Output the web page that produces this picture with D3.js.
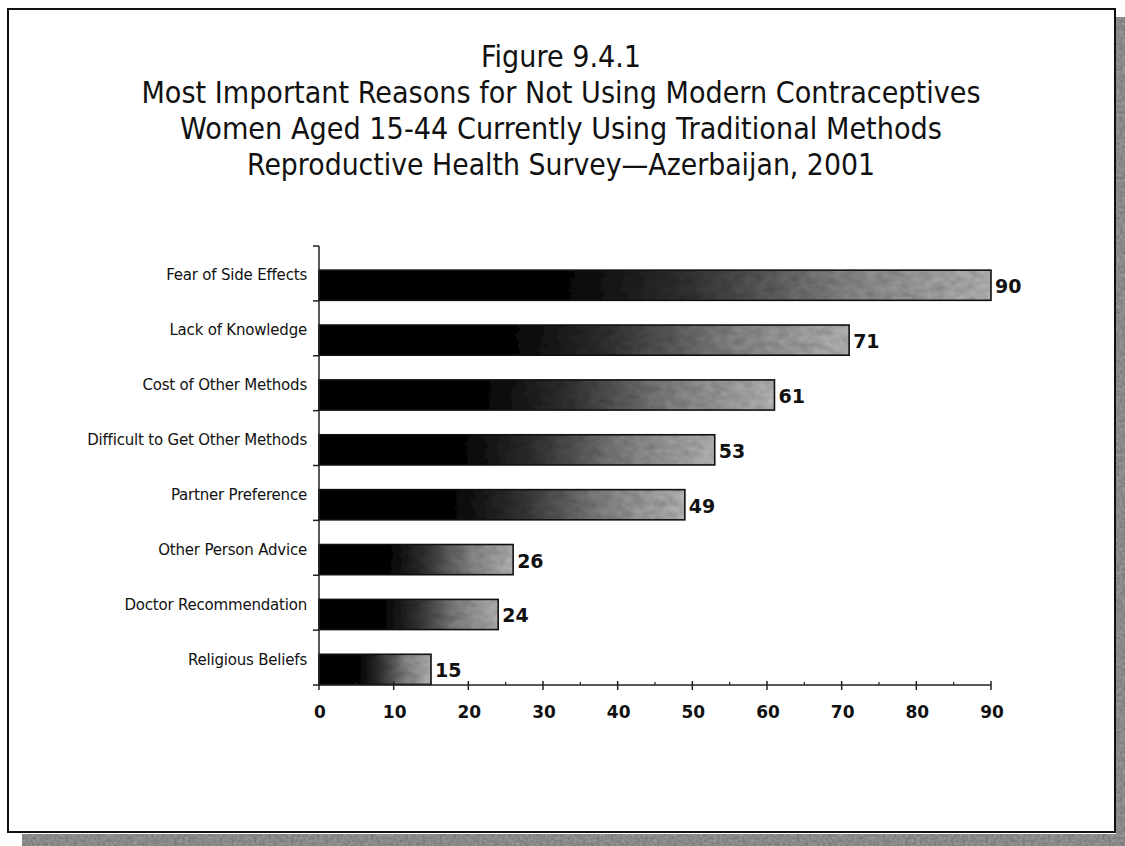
<!DOCTYPE html>
<html>
<head>
<meta charset="utf-8">
<script src="https://cdn.jsdelivr.net/npm/d3@7/dist/d3.min.js"></script>
<style>
  html, body { margin: 0; padding: 0; background: #ffffff; }
  svg { display: block; }
</style>
</head>
<body>
<div id="chart"></div>
<script>
// Reasons for not using modern contraceptives (percent of women using traditional methods)
const categories = [
  "Fear of Side Effects",
  "Lack of Knowledge",
  "Cost of Other Methods",
  "Difficult to Get Other Methods",
  "Partner Preference",
  "Other Person Advice",
  "Doctor Recommendation",
  "Religious Beliefs"
];
const values = [90, 71, 61, 53, 49, 26, 24, 15];
const xTicks = [0, 10, 20, 30, 40, 50, 60, 70, 80, 90];
const titleLines = [
  "Figure 9.4.1",
  "Most Important Reasons for Not Using Modern Contraceptives",
  "Women Aged 15-44 Currently Using Traditional Methods",
  "Reproductive Health Survey\u2014Azerbaijan, 2001"
];
const titleWidths = [160, 839, 762, 628];

const W = 1125, H = 846;
const svg = d3.select("#chart").append("svg")
  .attr("width", W).attr("height", H);

const defs = svg.append("defs");

// Dark-to-grey fill of each bar
const grad = defs.append("linearGradient")
  .attr("id", "barFill").attr("x1", "0").attr("x2", "1").attr("y1", "0").attr("y2", "0");
[[0, "#000"], [0.36, "#030303"], [0.55, "#2e2e2e"], [0.78, "#7a7a7a"], [1, "#a6a6a6"]]
  .forEach(([o, c]) => grad.append("stop").attr("offset", o).attr("stop-color", c));

// Mottled texture multiplied into the bar fill
const grain = defs.append("filter").attr("id", "grain")
  .attr("x", "0").attr("y", "0").attr("width", "1").attr("height", "1");
grain.append("feTurbulence").attr("type", "fractalNoise")
  .attr("baseFrequency", "0.09 0.14").attr("numOctaves", 2).attr("seed", 7).attr("result", "noise");
grain.append("feColorMatrix").attr("in", "noise").attr("type", "matrix")
  .attr("values", "1 0 0 0 0  1 0 0 0 0  1 0 0 0 0  0 0 0 0 1").attr("result", "gray");
grain.append("feComposite").attr("in", "SourceGraphic").attr("in2", "gray")
  .attr("operator", "arithmetic").attr("k1", 0.65).attr("k2", 0.7).attr("k3", 0).attr("k4", 0)
  .attr("result", "tex");
grain.append("feComposite").attr("in", "tex").attr("in2", "SourceGraphic").attr("operator", "in");

// Shadow texture for the frame
const sgrain = defs.append("filter").attr("id", "sgrain")
  .attr("x", "0").attr("y", "0").attr("width", "1").attr("height", "1");
sgrain.append("feTurbulence").attr("type", "fractalNoise")
  .attr("baseFrequency", "0.35").attr("numOctaves", 2).attr("seed", 3).attr("result", "noise");
sgrain.append("feColorMatrix").attr("in", "noise").attr("type", "matrix")
  .attr("values", "1 0 0 0 0  1 0 0 0 0  1 0 0 0 0  0 0 0 0 1").attr("result", "gray");
sgrain.append("feComposite").attr("in", "SourceGraphic").attr("in2", "gray")
  .attr("operator", "arithmetic").attr("k1", 0.8).attr("k2", 0.55).attr("k3", 0).attr("k4", 0)
  .attr("result", "tex");
sgrain.append("feComposite").attr("in", "tex").attr("in2", "SourceGraphic").attr("operator", "in");

// Drop shadow of the frame (right and bottom)
svg.append("rect").attr("x", 1116).attr("y", 17).attr("width", 9).attr("height", H - 17)
  .attr("fill", "#8c8c8c").attr("filter", "url(#sgrain)");
svg.append("rect").attr("x", 22).attr("y", 834).attr("width", W - 22).attr("height", H - 834)
  .attr("fill", "#8c8c8c").attr("filter", "url(#sgrain)");

// Frame
svg.append("rect").attr("x", 8).attr("y", 9).attr("width", 1107).attr("height", 823)
  .attr("fill", "#fff").attr("stroke", "#111").attr("stroke-width", 2);

// Title
const titleFont = "'DejaVu Sans', Verdana, Tahoma, sans-serif";
svg.append("g").selectAll("text").data(titleLines).join("text")
  .attr("x", 561)
  .attr("y", (d, i) => 67 + i * 36)
  .attr("text-anchor", "middle")
  .attr("font-family", titleFont)
  .attr("font-size", 30)
  .attr("fill", "#111")
  .attr("textLength", (d, i) => titleWidths[i])
  .attr("lengthAdjust", "spacingAndGlyphs")
  .text(d => d);

// Scales
const x = d3.scaleLinear().domain([0, 90]).range([319, 991]);
const y = d3.scaleBand().domain(categories).range([246, 685]).paddingInner(0).paddingOuter(0);
const bw = y.bandwidth();

// Bars
const data = categories.map((c, i) => ({ c, v: values[i] }));
const bars = svg.append("g");
bars.selectAll("rect.bar").data(data).join("rect")
  .attr("class", "bar")
  .attr("x", x(0))
  .attr("y", d => y(d.c) + bw * 0.44)
  .attr("width", d => x(d.v) - x(0))
  .attr("height", bw * 0.55)
  .attr("fill", "url(#barFill)")
  .attr("filter", "url(#grain)");
bars.selectAll("rect.edge").data(data).join("rect")
  .attr("class", "edge")
  .attr("x", x(0))
  .attr("y", d => y(d.c) + bw * 0.44)
  .attr("width", d => x(d.v) - x(0))
  .attr("height", bw * 0.55)
  .attr("fill", "none")
  .attr("stroke", "#111")
  .attr("stroke-width", 1.6);

// Value labels
svg.append("g").selectAll("text").data(data).join("text")
  .attr("x", d => x(d.v) + 4)
  .attr("y", d => y(d.c) + bw * 0.44 + bw * 0.275 + 1)
  .attr("dominant-baseline", "central")
  .attr("font-family", titleFont)
  .attr("font-weight", "bold")
  .attr("font-size", 19)
  .attr("fill", "#111")
  .text(d => d.v);

// Category axis
const yAxisG = svg.append("g");
yAxisG.append("line")
  .attr("x1", x(0)).attr("x2", x(0)).attr("y1", 246).attr("y2", 685)
  .attr("stroke", "#222").attr("stroke-width", 1.5);
const bounds = categories.map(c => y(c)).concat([y(categories[categories.length - 1]) + bw]);
yAxisG.selectAll("line.tick").data(bounds).join("line")
  .attr("class", "tick")
  .attr("x1", x(0) - 6).attr("x2", x(0)).attr("y1", d => d).attr("y2", d => d)
  .attr("stroke", "#222").attr("stroke-width", 1.5);
yAxisG.selectAll("text").data(categories).join("text")
  .attr("x", 307)
  .attr("y", d => y(d) + bw / 2 + 2)
  .attr("text-anchor", "end")
  .attr("dominant-baseline", "central")
  .attr("font-family", titleFont)
  .attr("font-size", 15)
  .attr("letter-spacing", -0.2)
  .attr("fill", "#111")
  .text(d => d);

// Value axis
const xAxisG = svg.append("g").attr("transform", "translate(0,685)");
xAxisG.append("line").attr("x1", x(0)).attr("x2", x(90)).attr("y1", 0).attr("y2", 0)
  .attr("stroke", "#222").attr("stroke-width", 1.5);
const minor = d3.range(5, 90, 10);
xAxisG.selectAll("line.minor").data(minor).join("line")
  .attr("class", "minor")
  .attr("x1", d => x(d)).attr("x2", d => x(d)).attr("y1", -3).attr("y2", 0)
  .attr("stroke", "#222").attr("stroke-width", 1.2);
xAxisG.selectAll("line.major").data(xTicks).join("line")
  .attr("class", "major")
  .attr("x1", d => x(d)).attr("x2", d => x(d)).attr("y1", -4).attr("y2", 5)
  .attr("stroke", "#222").attr("stroke-width", 1.5);
xAxisG.selectAll("text").data(xTicks).join("text")
  .attr("x", d => x(d) + 1)
  .attr("y", 27)
  .attr("text-anchor", "middle")
  .attr("dominant-baseline", "central")
  .attr("font-family", titleFont)
  .attr("font-weight", "bold")
  .attr("font-size", 17)
  .attr("fill", "#111")
  .text(d => d);
</script>
</body>
</html>
